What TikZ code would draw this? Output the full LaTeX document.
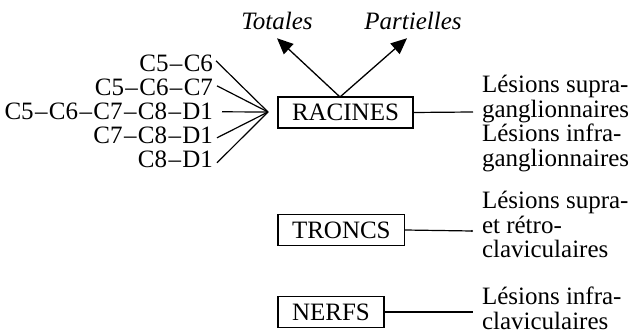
\documentclass[tikz,border=0pt]{standalone}
\usepackage{fontspec}
\setmainfont{Liberation Serif}
\usetikzlibrary{arrows.meta,calc}
\newcommand\dsh{\kern0.7pt–\kern0.7pt}
\begin{document}
\begin{tikzpicture}[x=0.5pt,y=-0.5pt,
  every node/.style={font=\fontsize{12.5}{12.4}\selectfont, inner sep=0pt, outer sep=0pt},
  lbl/.style={anchor=base east},
  boxn/.style={draw, line width=0.7pt, minimum height=15.5pt, inner xsep=7pt, anchor=west},
  rtxt/.style={anchor=north west, align=left},
  ln/.style={line width=0.6pt},
  arr/.style={line width=0.65pt, -{Triangle[length=8pt,width=7pt]}}]
\useasboundingbox (0,0) rectangle (638,336);
% left labels
\node[lbl] (l1) at (213,72) {C5\dsh C6};
\node[lbl] (l2) at (213,96) {C5\dsh C6\dsh C7};
\node[lbl] (l3) at (213,120) {C5\dsh C6\dsh C7\dsh C8\dsh D1};
\node[lbl] (l4) at (213,144) {C7\dsh C8\dsh D1};
\node[lbl] (l5) at (213,168) {C8\dsh D1};
\coordinate (conv) at (268,112);
\draw[ln] ($(l1.east)+(3,-3)$) -- (conv);
\draw[ln] ($(l2.east)+(4,-2)$) -- (conv);
\draw[ln] ($(l3.east)+(9,0)$) -- (conv);
\draw[ln] ($(l4.east)+(4,2)$) -- (conv);
\draw[ln] ($(l5.east)+(4,3)$) -- (conv);
% boxes
\node[boxn] (rac) at (278,112.5) {RACINES};
\node[boxn] (tro) at (278,230) {TRONCS};
\node[boxn] (ner) at (278,312) {NERFS};
% top labels
\node[font=\fontsize{12.5}{12.4}\selectfont\itshape, anchor=base] (tot) at (277,30) {Totales};
\node[font=\fontsize{12.5}{12.4}\selectfont\itshape, anchor=base] (par) at (413,30) {Partielles};
\coordinate (apex) at ($(rac.north west)+(62,0)$);
\draw[arr] (apex) -- ($(tot.south)+(0,8)$);
\draw[arr] (apex) -- ($(par.south)+(-6,8)$);
% right texts
\node[rtxt] (t1) at (482,75) {Lésions supra-\\ganglionnaires\\Lésions infra-\\ganglionnaires};
\node[rtxt] (t2) at (482,191) {Lésions supra-\\et rétro-\\claviculaires};
\node[rtxt] (t3) at (482,287) {Lésions infra-\\claviculaires};
\coordinate (e1) at (473,112);
\coordinate (e2) at (472,231);
\coordinate (e3) at (473,312);
\draw[ln] (rac.east) -- (e1);
\draw[ln] (tro.east) -- (e2);
\fill (e2) circle (1.2);
\draw[ln] (ner.east) -- (e3);
\end{tikzpicture}
\end{document}
